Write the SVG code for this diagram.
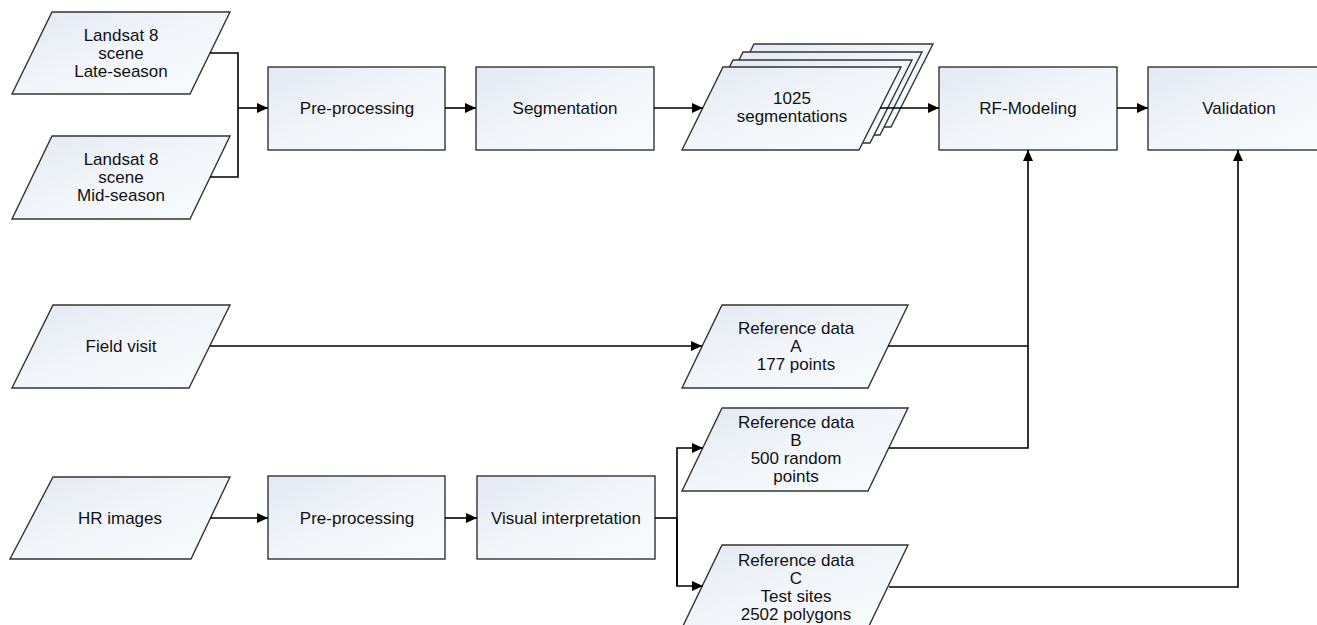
<svg xmlns="http://www.w3.org/2000/svg" width="1317" height="625" viewBox="0 0 1317 625">
<defs>
<linearGradient id="fillg" x1="0" y1="0" x2="1" y2="1">
<stop offset="0" stop-color="#e3e8f2"/>
<stop offset="0.5" stop-color="#f2f6fa"/>
<stop offset="1" stop-color="#f8fcfe"/>
</linearGradient>
<marker id="arr" markerUnits="userSpaceOnUse" markerWidth="12" markerHeight="10" refX="11" refY="5" orient="auto">
<path d="M0,0 L11,5 L0,10 z" fill="#000"/>
</marker>
</defs>
<style>
.n{fill:url(#fillg);stroke:#333;stroke-width:1.4}
.t{font-family:"Liberation Sans",Arial,sans-serif;font-size:17px;fill:#111;text-anchor:middle;dominant-baseline:central}
.c{fill:none;stroke:#000;stroke-width:1.6}
.a{marker-end:url(#arr)}
</style>
<rect width="1317" height="625" fill="#fff"/>
<g id="landsat-late">
<polygon class="n" points="52,12 230,12 190,94 12,94"/>
<text class="t" x="121" y="35">Landsat 8</text>
<text class="t" x="121" y="53">scene</text>
<text class="t" x="121" y="71">Late-season</text>
</g>
<g id="landsat-mid">
<polygon class="n" points="52,136 230,136 190,219 12,219"/>
<text class="t" x="121" y="159">Landsat 8</text>
<text class="t" x="121" y="177">scene</text>
<text class="t" x="121" y="195">Mid-season</text>
</g>
<g id="preprocessing1">
<rect class="n" x="268" y="67" width="177" height="83"/>
<text class="t" x="357" y="108">Pre-processing</text>
</g>
<g id="segmentation">
<rect class="n" x="476" y="67" width="178" height="83"/>
<text class="t" x="565" y="108">Segmentation</text>
</g>
<g id="segmentations-stack">
<polygon class="n" points="754,44 933,44 891,127 713,127"/>
<polygon class="n" points="743,52 922,52 880,135 702,135"/>
<polygon class="n" points="733,60 912,60 870,143 692,143"/>
<polygon class="n" points="723,67 901,67 859,150 682,150"/>
<text class="t" x="792" y="98">1025</text>
<text class="t" x="792" y="116">segmentations</text>
</g>
<g id="rf-modeling">
<rect class="n" x="939" y="67" width="178" height="83"/>
<text class="t" x="1028" y="108">RF-Modeling</text>
</g>
<g id="validation">
<rect class="n" x="1148" y="67" width="178" height="83"/>
<text class="t" x="1239" y="108">Validation</text>
</g>
<g id="field-visit">
<polygon class="n" points="53,305 230,305 189,388 12,388"/>
<text class="t" x="121" y="346">Field visit</text>
</g>
<g id="ref-a">
<polygon class="n" points="722,305 908,305 868,388 682,388"/>
<text class="t" x="796" y="328">Reference data</text>
<text class="t" x="796" y="346">A</text>
<text class="t" x="796" y="364">177 points</text>
</g>
<g id="ref-b">
<polygon class="n" points="722,408 908,408 868,491 682,491"/>
<text class="t" x="796" y="422">Reference data</text>
<text class="t" x="796" y="440">B</text>
<text class="t" x="796" y="458">500 random</text>
<text class="t" x="796" y="476">points</text>
</g>
<g id="hr-images">
<polygon class="n" points="53,477 230,477 191,559 10,559"/>
<text class="t" x="120" y="518">HR images</text>
</g>
<g id="preprocessing2">
<rect class="n" x="268" y="476" width="177" height="83"/>
<text class="t" x="357" y="518">Pre-processing</text>
</g>
<g id="visual-interpretation">
<rect class="n" x="477" y="476" width="178" height="83"/>
<text class="t" x="566" y="518">Visual interpretation</text>
</g>
<g id="ref-c">
<polygon class="n" points="722,545 908,545 868,628 682,628"/>
<text class="t" x="796" y="560">Reference data</text>
<text class="t" x="796" y="578">C</text>
<text class="t" x="796" y="596">Test sites</text>
<text class="t" x="796" y="614">2502 polygons</text>
</g>
<g id="connectors">
<path class="c" d="M210,53 H238 V177 H210"/>
<path class="c a" d="M238,108 H268"/>
<path class="c a" d="M445,108 H476"/>
<path class="c a" d="M654,108 H703"/>
<path class="c a" d="M880,108 H939"/>
<path class="c a" d="M1117,108 H1148"/>
<path class="c a" d="M210,346 H702"/>
<path class="c" d="M888,346 H1028"/>
<path class="c a" d="M889,448 H1028 V150"/>
<path class="c a" d="M210,518 H268"/>
<path class="c a" d="M445,518 H477"/>
<path class="c" d="M655,518 H677"/>
<path class="c a" d="M677,586 V448 H703"/>
<path class="c a" d="M677,518 V586 H703"/>
<path class="c a" d="M889,587 H1238 V150"/>
</g>
</svg>
